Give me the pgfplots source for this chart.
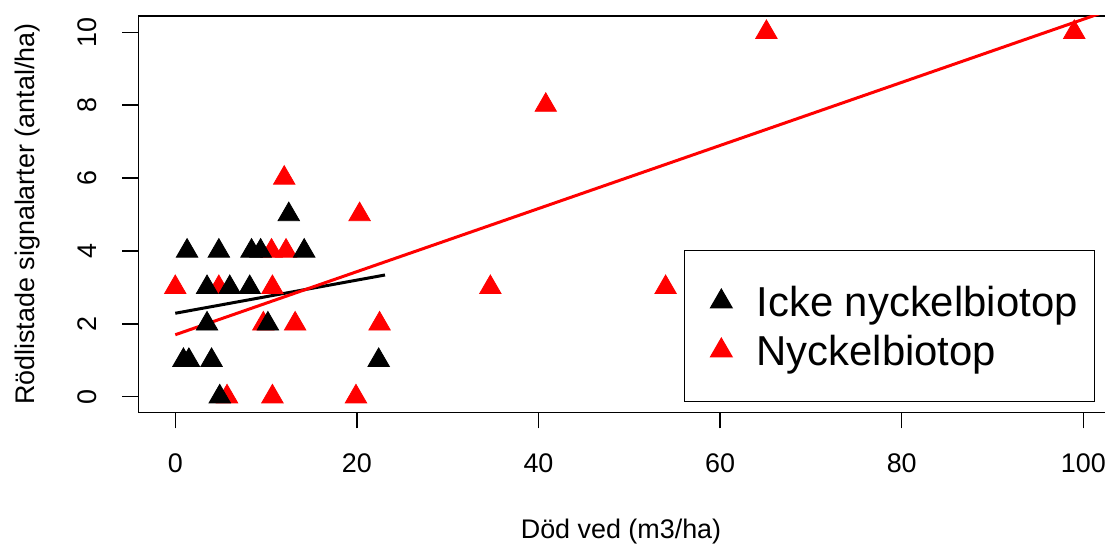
\documentclass[border=0pt]{standalone}
\usepackage{fontspec}
\setmainfont{Liberation Sans}
\usepackage{pgfplots}
\pgfplotsset{compat=1.18}
\pgfplotstableread{
x y
0 3
4.8 3
10.7 3
10.6 4
12.2 4
12.0 6
20.3 5
9.7 2
13.2 2
22.5 2
5.7 0
10.7 0
19.9 0
34.7 3
40.8 8
54.0 3
65.1 10
99.0 10
}\redtab
\pgfplotstableread{
x y
1.3 4
4.8 4
8.4 4
9.4 4
14.2 4
12.5 5
3.5 3
6.0 3
8.2 3
3.5 2
10.2 2
0.9 1
1.5 1
4.0 1
22.4 1
4.9 0
}\blacktab
\begin{document}
\begin{tikzpicture}[x=1bp,y=1bp]
\useasboundingbox (0,0) rectangle (552.5,272);
\begin{axis}[
  at={(69.15bp,65.85bp)}, anchor=south west,
  scale only axis, width=484.35bp, height=198.15bp,
  xmin=-4.07, xmax=102.61, ymin=-0.428, ymax=10.447,
  axis line style={line width=0.7bp},
  xtick={0,20,40,60,80,100}, ytick={0,2,4,6,8,10},
  tick align=outside, xtick pos=bottom, ytick pos=left,
  major tick length=8bp,
  every tick/.style={black, line width=0.7bp},
  /pgf/number format/assume math mode=true,
  tick label style={font=\fontsize{13.5}{16}\selectfont},
  xticklabel style={anchor=north, inner sep=0pt, yshift=-12.35bp},
  yticklabel style={xshift=-12.8bp, rotate=90, anchor=south, inner sep=0pt},
  xlabel={Död ved (m3/ha)}, ylabel={Rödlistade signalarter (antal/ha)},
  label style={font=\fontsize{13.5}{16}\selectfont, inner sep=0pt},
  xlabel style={at={(rel axis cs:0.4983,-0.31718)}, anchor=base},
  ylabel style={at={(rel axis cs:-0.10664,0.5)}, anchor=base},
  reverse legend,
  legend cell align=left,
  legend style={at={(rel axis cs:0.5633,0.4095)}, anchor=north west,
    draw=black, line width=0.65bp, inner xsep=8.35bp, inner ysep=16bp,
    font=\fontsize{21}{24}\selectfont, row sep=5.5bp, column sep=7.65bp,
    nodes={inner sep=0pt, text height=17bp, text depth=2bp}},
  legend image code/.code={\path[draw=none, fill=none] (0bp,-5bp) -- (20bp,5bp);
    \draw[#1] plot coordinates {(10bp,0bp)};},
]
\addplot[only marks, mark=triangle*, mark size=6.2pt, red, fill=red, draw=red] table[x=x,y=y] {\redtab};
\addlegendentry{Nyckelbiotop}
\addplot[only marks, mark=triangle*, mark size=6.2pt, black, fill=black, draw=black] table[x=x,y=y] {\blacktab};
\addlegendentry{Icke nyckelbiotop\hspace{3bp}}
\addplot[black, line width=1.5bp, forget plot] coordinates {(0,2.29) (23.1,3.34)};
\addplot[red, line width=1.5bp, forget plot] coordinates {(0,1.70) (102,10.53)};
\end{axis}
\end{tikzpicture}
\end{document}
